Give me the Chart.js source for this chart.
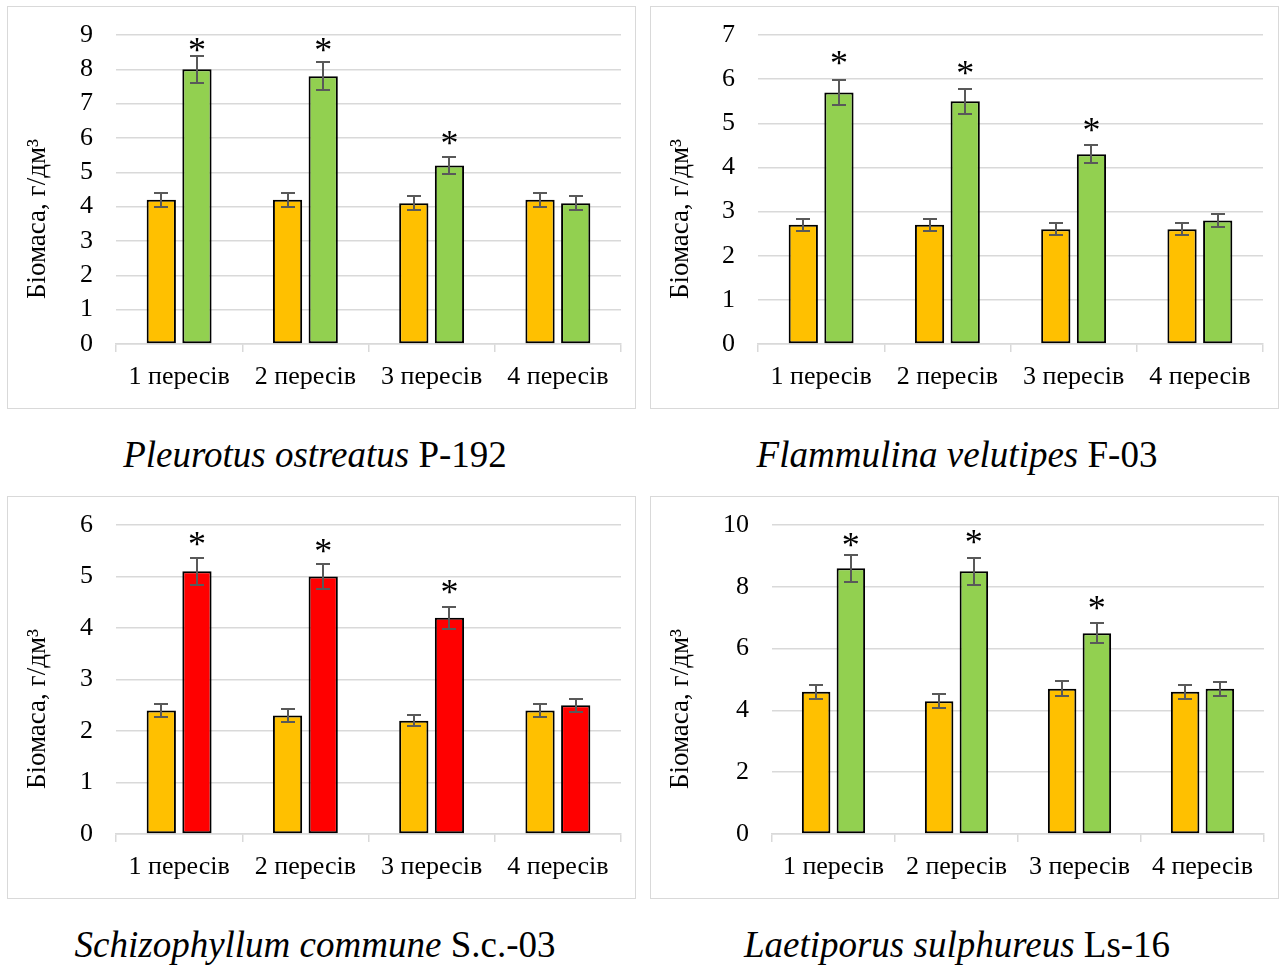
<!DOCTYPE html>
<html>
<head>
	<meta charset="utf-8">
	<script src="https://cdn.jsdelivr.net/npm/chart.js@4.4.1/dist/chart.umd.min.js"></script>
	<style>
		body {
			margin: 0;
			background: #fff;
			width: 1284px;
			height: 965px;
			position: relative;
			overflow: hidden;
			font-family: "Liberation Serif", "Times New Roman", serif;
		}
		.panel {
			position: absolute;
			border: 1px solid #d9d9d9;
			box-sizing: border-box;
			width: 629px;
			height: 403px;
		}
		.panel canvas { display: block; }
		.caption {
			position: absolute;
			width: 630px;
			text-align: center;
			font-size: 37px;
			line-height: 40px;
			color: #000;
			white-space: nowrap;
		}
	</style>
</head>
<body>
	<div class="panel" style="left:7px; top:6px;"><canvas id="c1" width="627" height="401"></canvas></div>
	<div class="panel" style="left:650px; top:6px;"><canvas id="c2" width="627" height="401"></canvas></div>
	<div class="panel" style="left:7px; top:496px;"><canvas id="c3" width="627" height="401"></canvas></div>
	<div class="panel" style="left:650px; top:496px;"><canvas id="c4" width="627" height="401"></canvas></div>

	<div class="caption" style="left:0px; top:435px;"><i>Pleurotus ostreatus</i> P-192</div>
	<div class="caption" style="left:642px; top:435px;"><i>Flammulina velutipes</i> F-03</div>
	<div class="caption" style="left:0px; top:925px;"><i>Schizophyllum commune</i> S.c.-03</div>
	<div class="caption" style="left:642px; top:925px;"><i>Laetiporus sulphureus</i> Ls-16</div>

	<script>
var passages = ['1 пересів', '2 пересів', '3 пересів', '4 пересів'];
var axisTitle = 'Біомаса, г/дм³';

// Pleurotus ostreatus P-192
var pleurotusControl = [4.2, 4.2, 4.1, 4.2];
var pleurotusControlErr = [0.2, 0.2, 0.2, 0.2];
var pleurotusTreated = [8.0, 7.8, 5.2, 4.1];
var pleurotusTreatedErr = [0.4, 0.4, 0.26, 0.2];
var pleurotusStar = [8.7, 8.7, 6.0, null];   // level of the * mark, null = not significant

// Flammulina velutipes F-03
var flammulinaControl = [2.7, 2.7, 2.6, 2.6];
var flammulinaControlErr = [0.13, 0.13, 0.13, 0.13];
var flammulinaTreated = [5.7, 5.5, 4.3, 2.8];
var flammulinaTreatedErr = [0.29, 0.28, 0.21, 0.15];
var flammulinaStar = [6.47, 6.26, 4.95, null];

// Schizophyllum commune S.c.-03
var schizophyllumControl = [2.4, 2.3, 2.2, 2.4];
var schizophyllumControlErr = [0.12, 0.12, 0.11, 0.12];
var schizophyllumTreated = [5.1, 5.0, 4.2, 2.5];
var schizophyllumTreatedErr = [0.26, 0.25, 0.21, 0.13];
var schizophyllumStar = [5.72, 5.6, 4.79, null];

// Laetiporus sulphureus Ls-16
var laetiporusControl = [4.6, 4.3, 4.7, 4.6];
var laetiporusControlErr = [0.23, 0.22, 0.24, 0.23];
var laetiporusTreated = [8.6, 8.5, 6.5, 4.7];
var laetiporusTreatedErr = [0.43, 0.43, 0.33, 0.23];
var laetiporusStar = [9.53, 9.6, 7.46, null];

// y axis ranges, one per chart
var yMax = [9, 7, 6, 10];
var yStep = [1, 1, 1, 2];

var serif = '"Liberation Serif", "Times New Roman", serif';

// whiskers, asterisks and the rotated axis title
var extras = {
	id: 'extras',
	afterDatasetsDraw: function(chart) {
		var ctx = chart.ctx;
		var y = chart.scales.y;
		ctx.save();
		chart.data.datasets.forEach(function(ds, i) {
			var meta = chart.getDatasetMeta(i);
			meta.data.forEach(function(bar, j) {
				var v = ds.data[j], e = ds.errors[j];
				var top = Math.round(y.getPixelForValue(v + e));
				var bot = Math.round(y.getPixelForValue(v - e));
				var x = Math.round(bar.x);
				ctx.strokeStyle = '#595959';
				ctx.lineWidth = 2;
				ctx.beginPath();
				ctx.moveTo(x, top); ctx.lineTo(x, bot);
				ctx.moveTo(x - 7, top); ctx.lineTo(x + 7, top);
				ctx.moveTo(x - 7, bot); ctx.lineTo(x + 7, bot);
				ctx.stroke();
				if (ds.stars && ds.stars[j] != null) {
					ctx.fillStyle = '#000';
					ctx.font = '36px ' + serif;
					ctx.textAlign = 'center';
					ctx.textBaseline = 'alphabetic';
					var m = ctx.measureText('*');
					var cy = y.getPixelForValue(ds.stars[j]);
					// put the glyph's visual centre on the level
					ctx.fillText('*', bar.x, cy - (m.actualBoundingBoxDescent - m.actualBoundingBoxAscent) / 2);
				}
			});
		});
		ctx.restore();
	},
	afterDraw: function(chart) {
		var ctx = chart.ctx;
		ctx.save();
		ctx.translate(30, 212);
		ctx.rotate(-Math.PI / 2);
		ctx.fillStyle = '#000';
		ctx.font = '27px ' + serif;
		ctx.textAlign = 'center';
		ctx.textBaseline = 'middle';
		ctx.fillText(axisTitle, 0, 0);
		ctx.restore();
	}
};

function makeChart(id, control, controlErr, treated, treatedErr, stars, color, max, step, axisWidth, rightPad) {
	var ctx = document.getElementById(id);
	return new Chart(ctx, {
		type: 'bar',
		data: {
			labels: passages,
			datasets: [
				{
					data: control,
					errors: controlErr,
					backgroundColor: '#FFC000',
					borderColor: '#000',
					borderWidth: 2,
					borderSkipped: false
				},
				{
					data: treated,
					errors: treatedErr,
					stars: stars,
					backgroundColor: color,
					borderColor: '#000',
					borderWidth: 2,
					borderSkipped: false
				}
			]
		},
		options: {
			responsive: false,
			animation: false,
			devicePixelRatio: 1,
			categoryPercentage: 0.565,
			barPercentage: 0.82,
			layout: { padding: { top: 28, right: rightPad, left: 0, bottom: 0 } },
			plugins: {
				legend: { display: false },
				tooltip: { enabled: false }
			},
			scales: {
				x: {
					grid: { offset: true, drawOnChartArea: false, drawTicks: true, tickLength: 8, color: '#d9d9d9', lineWidth: 1.5 },
					border: { color: '#d9d9d9', width: 1.5 },
					ticks: { color: '#000', font: { family: serif, size: 26 }, padding: 10, maxRotation: 0 },
					afterFit: function(s) { s.height = 64; }
				},
				y: {
					min: 0,
					max: max,
					ticks: { stepSize: step, autoSkip: false, color: '#000', font: { family: serif, size: 26 }, padding: 23 },
					grid: { color: '#d9d9d9', lineWidth: 1.5, drawTicks: false },
					border: { display: false },
					afterFit: function(s) {
						s.width = axisWidth;
						// label padding would otherwise push the plot top down
						s.paddingTop = 0;
						s.paddingBottom = 0;
					}
				}
			}
		},
		plugins: [extras]
	});
}

makeChart('c1', pleurotusControl, pleurotusControlErr, pleurotusTreated, pleurotusTreatedErr, pleurotusStar, '#92D050', yMax[0], yStep[0], 108, 14);
makeChart('c2', flammulinaControl, flammulinaControlErr, flammulinaTreated, flammulinaTreatedErr, flammulinaStar, '#92D050', yMax[1], yStep[1], 107, 15);
makeChart('c3', schizophyllumControl, schizophyllumControlErr, schizophyllumTreated, schizophyllumTreatedErr, schizophyllumStar, '#FF0000', yMax[2], yStep[2], 108, 14);
makeChart('c4', laetiporusControl, laetiporusControlErr, laetiporusTreated, laetiporusTreatedErr, laetiporusStar, '#92D050', yMax[3], yStep[3], 121, 14);
	</script>
</body>
</html>
